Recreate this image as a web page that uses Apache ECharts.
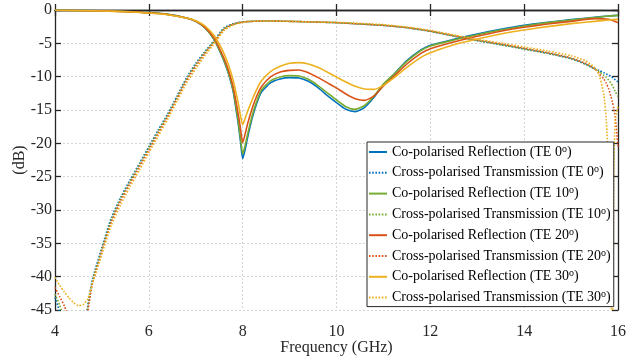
<!DOCTYPE html>
<html><head><meta charset="utf-8">
<script src="https://cdn.jsdelivr.net/npm/echarts@6/dist/echarts.min.js"></script>
<style>html,body{margin:0;padding:0;background:#fff}#c{width:638px;height:361px}</style>
</head><body><div id="c"></div>
<script>
// ---- data ----
const angles = ['0', '10', '20', '30'];
const freqR = [4.0, 5.0, 5.5, 6.0, 6.4, 6.8, 7.0, 7.2, 7.4, 7.5, 7.6, 7.7, 7.8, 7.9, 7.95, 8.0, 8.05, 8.1, 8.2, 8.3, 8.4, 8.6, 8.8, 9.0, 9.2, 9.4, 9.6, 9.8, 10.0, 10.2, 10.4, 10.6, 10.8, 11.0, 11.2, 11.5, 11.8, 12.0, 12.5, 13.0, 13.5, 14.0, 14.5, 15.0, 15.5, 15.8, 16.0];
const reflTE0 = [-0.02, -0.12, -0.22, -0.4, -0.65, -1.2, -1.7, -2.7, -4.5, -6.0, -7.6, -9.6, -12.3, -16.8, -19.5, -22.3, -21.0, -19.3, -16.3, -14.0, -12.3, -10.9, -10.35, -10.15, -10.2, -10.7, -11.6, -12.8, -13.9, -14.9, -15.25, -14.6, -13.1, -11.2, -9.8, -7.6, -6.0, -5.3, -4.4, -3.6, -2.9, -2.3, -1.85, -1.45, -1.1, -0.9, -0.8];
const reflTE10 = [-0.02, -0.12, -0.22, -0.4, -0.65, -1.2, -1.7, -2.7, -4.5, -5.9, -7.5, -9.5, -12.1, -16.4, -19.0, -21.6, -20.4, -18.8, -15.9, -13.7, -12.0, -10.6, -10.05, -9.85, -9.9, -10.4, -11.3, -12.4, -13.5, -14.5, -14.9, -14.3, -12.9, -11.1, -9.8, -7.7, -6.1, -5.4, -4.5, -3.7, -3.0, -2.4, -1.9, -1.5, -1.15, -0.9, -0.8];
const reflTE20 = [-0.03, -0.13, -0.24, -0.42, -0.68, -1.2, -1.65, -2.6, -4.3, -5.7, -7.2, -9.1, -11.6, -15.4, -17.6, -19.9, -18.7, -17.2, -14.8, -12.9, -11.5, -10.0, -9.3, -9.05, -9.0, -9.4, -10.1, -10.9, -11.7, -12.6, -13.3, -13.55, -12.9, -11.4, -10.1, -8.1, -6.5, -5.8, -4.8, -3.95, -3.2, -2.6, -2.1, -1.7, -1.3, -1.4, -1.9];
const reflTE30 = [-0.04, -0.15, -0.27, -0.45, -0.72, -1.2, -1.6, -2.4, -3.9, -5.1, -6.5, -8.3, -10.6, -13.8, -15.7, -17.2, -16.3, -15.3, -13.5, -11.9, -10.6, -9.2, -8.45, -8.0, -7.9, -8.1, -8.6, -9.3, -10.05, -10.8, -11.45, -11.85, -11.9, -11.3, -10.3, -8.6, -7.1, -6.4, -5.2, -4.35, -3.6, -3.0, -2.5, -2.05, -1.7, -1.5, -1.4];
const freqT = [4.0, 4.1, 4.2, 4.3, 4.4, 4.5, 4.6, 4.7, 4.8, 5.0, 5.2, 5.4, 5.6, 5.8, 6.0, 6.2, 6.4, 6.6, 6.8, 7.0, 7.2, 7.4, 7.6, 7.8, 8.0, 8.2, 8.5, 9.0, 9.5, 10.0, 10.5, 11.0, 11.5, 12.0, 12.5, 13.0, 13.5, 14.0, 14.5, 15.0, 15.3, 15.5, 15.6, 15.7, 15.75, 15.8, 15.85, 15.88, 15.91, 15.94, 16.0];
const transTE0 = [-43.1, -45.3, -47.8, -51, -55, -58, -50, -44.3, -40.4, -35.6, -31.2, -28.1, -25.5, -23.0, -20.5, -18.0, -15.6, -12.9, -10.2, -8.0, -6.2, -4.5, -2.7, -2.05, -1.8, -1.7, -1.65, -1.7, -1.8, -1.9, -2.1, -2.3, -2.65, -3.2, -3.9, -4.6, -5.2, -5.85, -6.5, -7.3, -8.1, -8.8, -9.1, -9.4, -9.6, -9.75, -9.95, -10.1, -10.25, -10.45, -10.8];
const transTE10 = [-42.6, -44.3, -46.5, -49.5, -53.5, -57, -50.5, -44.6, -40.7, -35.9, -31.5, -28.3, -25.7, -23.2, -20.7, -18.2, -15.8, -13.1, -10.4, -8.2, -6.3, -4.6, -2.8, -2.1, -1.8, -1.7, -1.65, -1.7, -1.8, -1.9, -2.1, -2.3, -2.65, -3.2, -3.9, -4.6, -5.2, -5.85, -6.5, -7.3, -8.1, -8.85, -9.25, -9.8, -10.1, -10.5, -11.0, -11.35, -11.75, -12.2, -13.0];
const transTE20 = [-41.6, -43.0, -44.4, -46.5, -49.5, -53, -51, -45.2, -41.0, -36.2, -31.8, -28.6, -26.0, -23.5, -21.0, -18.5, -16.0, -13.3, -10.6, -8.4, -6.5, -4.75, -2.9, -2.15, -1.8, -1.7, -1.65, -1.7, -1.8, -1.9, -2.1, -2.3, -2.65, -3.15, -3.85, -4.5, -5.1, -5.75, -6.4, -7.2, -8.0, -8.8, -9.5, -10.4, -11.0, -11.8, -13.0, -13.8, -14.8, -16.0, -20.5];
const transTE30 = [-40.1, -41.3, -42.3, -43.2, -43.9, -44.35, -44.2, -43.3, -41.0, -36.6, -32.3, -29.2, -26.5, -24.0, -21.4, -18.9, -16.4, -13.7, -11.0, -8.8, -6.8, -5.0, -3.1, -2.25, -1.85, -1.7, -1.65, -1.7, -1.8, -1.85, -2.0, -2.2, -2.55, -3.05, -3.75, -4.4, -4.95, -5.55, -6.15, -6.85, -7.6, -8.6, -9.8, -12.8, -16.5, -24, -40, -52, -25, -16.5, -14.5];

// ---- chart ----
const colors = ['#0072BD', '#77AC30', '#D95319', '#EDB120'];
const refl = [reflTE0, reflTE10, reflTE20, reflTE30];
const trans = [transTE0, transTE10, transTE20, transTE30];
const FONT = "'Liberation Serif', 'Times New Roman', serif";
const AX = '#262626';

const series = [];
angles.forEach((a, i) => {
  series.push({
    name: 'Co-polarised Reflection (TE ' + a + 'o)',
    type: 'line', symbol: 'none', showSymbol: false, smooth: 0.2,
    data: freqR.map((f, k) => [f, refl[i][k]]),
    lineStyle: { color: colors[i], width: 1.6, type: 'solid' },
    itemStyle: { color: colors[i] },
    emphasis: { disabled: true }
  });
  series.push({
    name: 'Cross-polarised Transmission (TE ' + a + 'o)',
    type: 'line', symbol: 'none', showSymbol: false, smooth: 0.2,
    data: freqT.map((f, k) => [f, trans[i][k]]),
    lineStyle: { color: colors[i], width: 1.6, type: [1.6, 1.6] },
    itemStyle: { color: colors[i] },
    emphasis: { disabled: true }
  });
});

const chart = echarts.init(document.getElementById('c'));
chart.setOption({
  animation: false,
  backgroundColor: '#fff',
  grid: { left: 55, right: 20, top: 10, bottom: 48 },
  legend: {
    orient: 'vertical', left: 367, top: 142,
    backgroundColor: '#fff', borderColor: AX, borderWidth: 1, borderRadius: 0,
    padding: [2, 3, 1, 1],
    itemWidth: 18, itemHeight: 10, itemGap: 4.8,
    selectedMode: false,
    itemStyle: { opacity: 0, color: 'transparent', borderWidth: 0 },
    formatter: function (name) {
      const m = name.match(/^(.*\d)o\)$/);
      return '{t|' + m[1] + '}{s|o}{t|)}';
    },
    textStyle: {
      fontFamily: FONT, fontSize: 14, color: '#000',
      rich: {
        t: { fontFamily: FONT, fontSize: 14, lineHeight: 16, color: '#000' },
        s: { fontFamily: FONT, fontSize: 10, lineHeight: 10, padding: [0, 0, 6, 0], color: '#000' }
      }
    }
  },
  xAxis: [{
    type: 'value', min: 4, max: 16, interval: 2, position: 'bottom',
    name: 'Frequency (GHz)', nameLocation: 'middle', nameGap: 30, nameMoveOverlap: false,
    nameTextStyle: { fontFamily: FONT, fontSize: 16, color: AX },
    axisLine: { show: true, lineStyle: { color: AX, width: 1.3 } },
    axisTick: { show: true, inside: true, length: 6, lineStyle: { color: AX, width: 1.3 } },
    axisLabel: { fontFamily: FONT, fontSize: 16, color: AX, margin: 14 },
    splitLine: { show: true, lineStyle: { type: [2, 2], color: '#d4d4d4', width: 1 } }
  }, {
    type: 'value', min: 4, max: 16, interval: 2, position: 'top',
    axisLine: { show: true, onZero: false, lineStyle: { color: AX, width: 1.3 } },
    axisTick: { show: true, inside: true, length: 6, lineStyle: { color: AX, width: 1.3 } },
    axisLabel: { show: false }, splitLine: { show: false }
  }],
  yAxis: [{
    type: 'value', min: -45, max: 0, interval: 5, position: 'left',
    name: '(dB)', nameLocation: 'middle', nameGap: 27, nameRotate: 90, nameMoveOverlap: false,
    nameTextStyle: { fontFamily: FONT, fontSize: 16, color: AX },
    axisLine: { show: true, onZero: false, lineStyle: { color: AX, width: 1.3 } },
    axisTick: { show: true, inside: true, length: 6, lineStyle: { color: AX, width: 1.3 } },
    axisLabel: { fontFamily: FONT, fontSize: 16, color: AX, margin: 3 },
    splitLine: { show: true, lineStyle: { type: [2, 2], color: '#d4d4d4', width: 1 } }
  }, {
    type: 'value', min: -45, max: 0, interval: 5, position: 'right',
    axisLine: { show: true, onZero: false, lineStyle: { color: AX, width: 1.3 } },
    axisTick: { show: true, inside: true, length: 6, lineStyle: { color: AX, width: 1.3 } },
    axisLabel: { show: false }, splitLine: { show: false }
  }],
  series: series
});
</script>
</body></html>
